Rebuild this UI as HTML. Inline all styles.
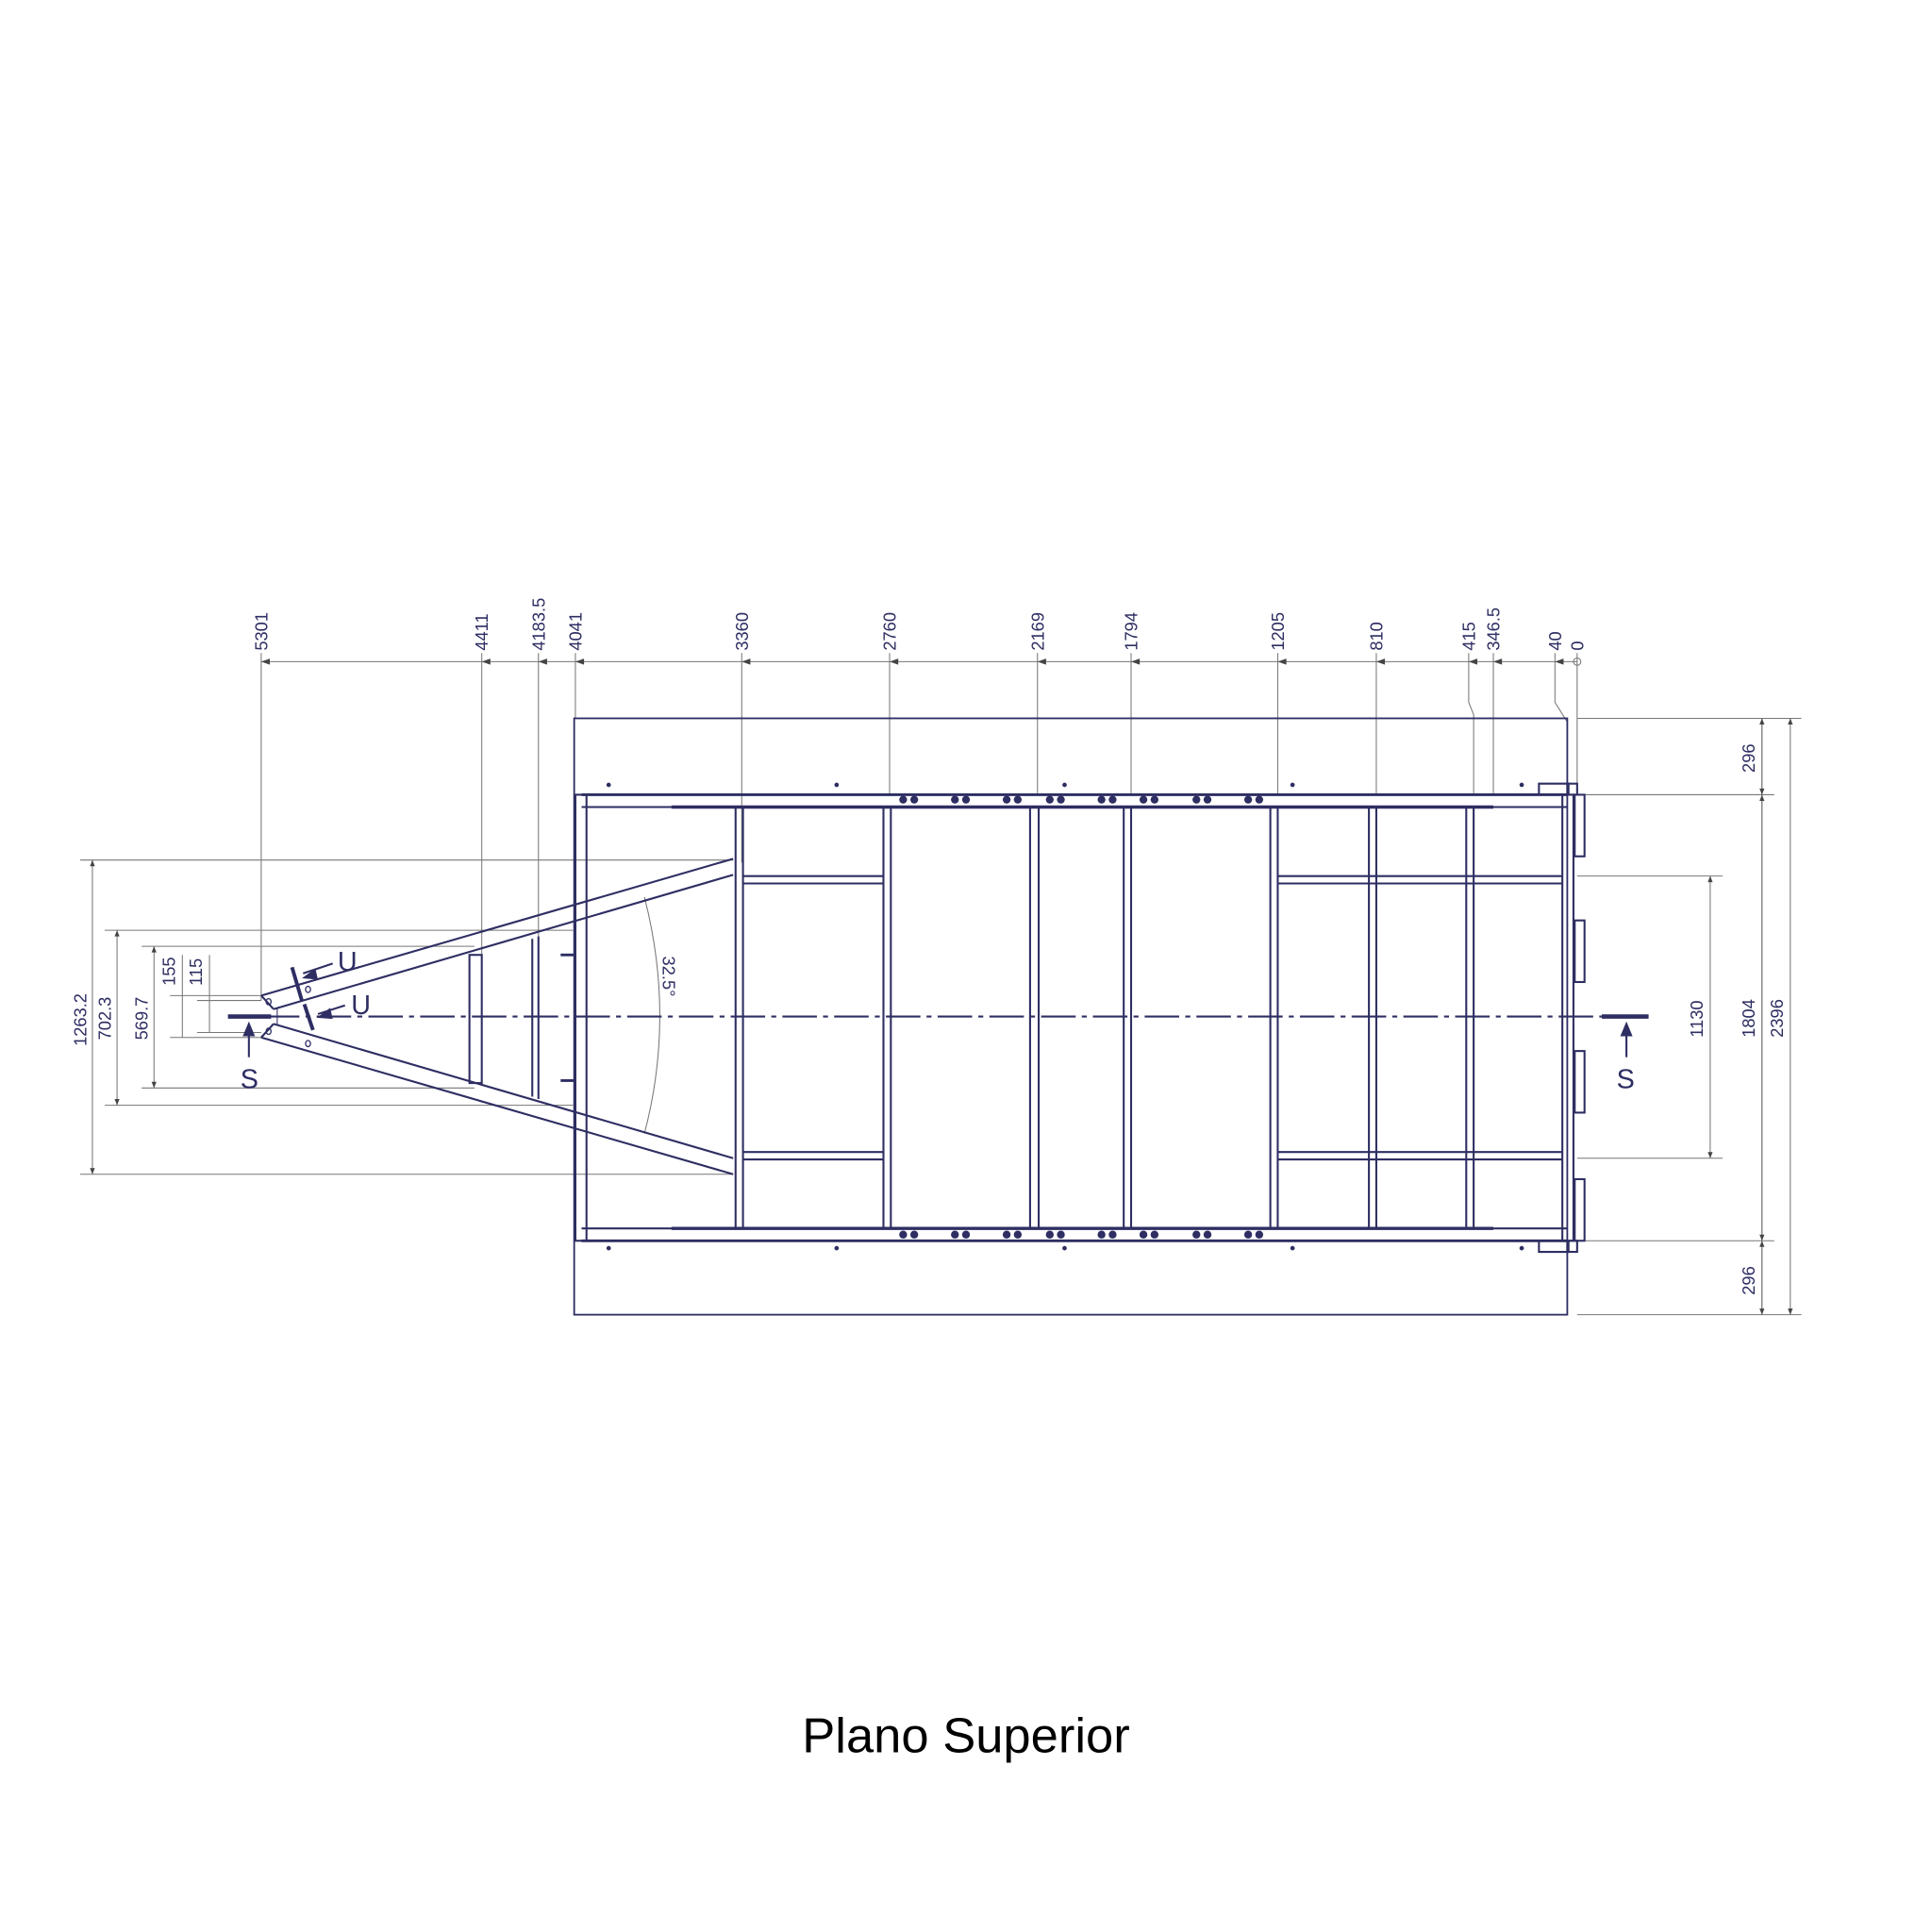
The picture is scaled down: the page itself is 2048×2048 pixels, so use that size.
<!DOCTYPE html>
<html><head><meta charset="utf-8"><style>html,body{margin:0;padding:0;background:#fff}svg{display:block}</style></head>
<body>
<svg width="2048" height="2048" viewBox="0 0 1568 1568" xmlns="http://www.w3.org/2000/svg">
<defs>
<marker id="a" viewBox="0 0 10 10" refX="10" refY="5" markerWidth="7" markerHeight="5" orient="auto-start-reverse" markerUnits="userSpaceOnUse"><path d="M0,1 L10,5 L0,9z" fill="#444"/></marker>
</defs>
<rect width="1568" height="1568" fill="#fff"/>
<g stroke="#777" stroke-width="0.8" fill="none">
<!-- top dimension -->
<line x1="212" y1="537" x2="1280" y2="537"/>
<g>
<line x1="212" y1="530" x2="212" y2="812"/>
<line x1="391" y1="530" x2="391" y2="775"/>
<line x1="437" y1="530" x2="437" y2="760"/>
<line x1="467" y1="530" x2="467" y2="583"/>
<line x1="602" y1="530" x2="602" y2="700"/>
<line x1="722" y1="530" x2="722" y2="645"/>
<line x1="842" y1="530" x2="842" y2="645"/>
<line x1="918" y1="530" x2="918" y2="645"/>
<line x1="1037" y1="530" x2="1037" y2="645"/>
<line x1="1117" y1="530" x2="1117" y2="645"/>
<polyline points="1192,530 1192,570 1196,580 1196,645"/>
<line x1="1212" y1="530" x2="1212" y2="645"/>
<polyline points="1262,530 1262,570 1272,586"/>
<line x1="1280" y1="530" x2="1280" y2="645"/>
</g>
<circle cx="1280" cy="537" r="3"/>
<!-- right dims -->
<line x1="1280" y1="583" x2="1462" y2="583"/>
<line x1="1285" y1="645" x2="1440" y2="645"/>
<line x1="1285" y1="1007" x2="1440" y2="1007"/>
<line x1="1280" y1="1067" x2="1462" y2="1067"/>
<line x1="1280" y1="711" x2="1398" y2="711"/>
<line x1="1280" y1="940" x2="1398" y2="940"/>
<line x1="1430" y1="583" x2="1430" y2="1067"/>
<line x1="1453" y1="583" x2="1453" y2="1067" marker-start="url(#a)" marker-end="url(#a)"/>
<line x1="1388" y1="711" x2="1388" y2="940" marker-start="url(#a)" marker-end="url(#a)"/>
<line x1="1430" y1="583" x2="1430" y2="645" marker-start="url(#a)" marker-end="url(#a)"/>
<line x1="1430" y1="645" x2="1430" y2="1007" marker-start="url(#a)" marker-end="url(#a)"/>
<line x1="1430" y1="1007" x2="1430" y2="1067" marker-start="url(#a)" marker-end="url(#a)"/>
<!-- left dims -->
<line x1="65" y1="698" x2="595" y2="698"/>
<line x1="65" y1="953" x2="595" y2="953"/>
<line x1="85" y1="755" x2="465" y2="755"/>
<line x1="85" y1="897" x2="465" y2="897"/>
<line x1="115" y1="768" x2="385" y2="768"/>
<line x1="115" y1="883" x2="385" y2="883"/>
<line x1="138" y1="808" x2="212" y2="808"/>
<line x1="138" y1="842" x2="212" y2="842"/>
<line x1="160" y1="812" x2="212" y2="812"/>
<line x1="160" y1="838" x2="212" y2="838"/>
<line x1="75" y1="698" x2="75" y2="953" marker-start="url(#a)" marker-end="url(#a)"/>
<line x1="95" y1="755" x2="95" y2="897" marker-start="url(#a)" marker-end="url(#a)"/>
<line x1="125" y1="768" x2="125" y2="883" marker-start="url(#a)" marker-end="url(#a)"/>
<line x1="148" y1="775" x2="148" y2="842"/>
<line x1="170" y1="775" x2="170" y2="838"/>
<!-- angle arc -->
<path d="M523,728 Q548,825 523,920"/>
</g>
<g fill="#444">
<path d="M212,537 l7,-2.5 v5z M391,537 l7,-2.5 v5z M437,537 l7,-2.5 v5z M467,537 l7,-2.5 v5z M602,537 l7,-2.5 v5z M722,537 l7,-2.5 v5z M842,537 l7,-2.5 v5z M918,537 l7,-2.5 v5z M1037,537 l7,-2.5 v5z M1117,537 l7,-2.5 v5z M1192,537 l7,-2.5 v5z M1212,537 l7,-2.5 v5z M1262,537 l7,-2.5 v5z"/>
</g>
<!-- drawing -->
<g stroke="#2e2e63" fill="none" stroke-width="1.6">
<rect x="466" y="583" width="806" height="484" stroke-width="1.4"/>
<line x1="472" y1="645" x2="1272" y2="645" stroke-width="2.2"/>
<line x1="472" y1="655" x2="1272" y2="655"/>
<line x1="545" y1="655" x2="1212" y2="655" stroke-width="2.6"/>
<line x1="472" y1="997" x2="1272" y2="997"/>
<line x1="545" y1="997" x2="1212" y2="997" stroke-width="2.6"/>
<line x1="472" y1="1007" x2="1272" y2="1007" stroke-width="2.2"/>
<rect x="467" y="645" width="9" height="362"/>
<rect x="1268" y="645" width="9" height="362"/>
<g>
<line x1="597" y1="655" x2="597" y2="997"/><line x1="603" y1="655" x2="603" y2="997"/>
<line x1="717" y1="655" x2="717" y2="997"/><line x1="723" y1="655" x2="723" y2="997"/>
<line x1="836" y1="655" x2="836" y2="997"/><line x1="843" y1="655" x2="843" y2="997"/>
<line x1="912" y1="655" x2="912" y2="997"/><line x1="918" y1="655" x2="918" y2="997"/>
<line x1="1031" y1="655" x2="1031" y2="997"/><line x1="1037" y1="655" x2="1037" y2="997"/>
<line x1="1111" y1="655" x2="1111" y2="997"/><line x1="1117" y1="655" x2="1117" y2="997"/>
<line x1="1190" y1="655" x2="1190" y2="997"/><line x1="1196" y1="655" x2="1196" y2="997"/>
</g>
<g>
<line x1="603" y1="711" x2="717" y2="711"/><line x1="603" y1="717" x2="717" y2="717"/>
<line x1="603" y1="935" x2="717" y2="935"/><line x1="603" y1="941" x2="717" y2="941"/>
<line x1="1037" y1="711" x2="1268" y2="711"/><line x1="1037" y1="717" x2="1268" y2="717"/>
<line x1="1037" y1="935" x2="1268" y2="935"/><line x1="1037" y1="941" x2="1268" y2="941"/>
</g>
<!-- right plates -->
<path d="M1249,645 v-9 h24 v9"/>
<path d="M1249,1007 v9 h24 v-9"/>
<rect x="1272" y="636" width="8" height="9"/><rect x="1272" y="1007" width="8" height="9"/>
<rect x="1278" y="645" width="8" height="50"/>
<rect x="1278" y="747" width="8" height="50"/>
<rect x="1278" y="853" width="8" height="50"/>
<rect x="1278" y="957" width="8" height="50"/>
<!-- drawbar -->
<line x1="212" y1="808" x2="595" y2="697"/>
<line x1="222" y1="819" x2="595" y2="710"/>
<line x1="212" y1="842" x2="595" y2="953"/>
<line x1="222" y1="831" x2="595" y2="940"/>
<line x1="212" y1="808" x2="222" y2="819"/>
<line x1="212" y1="842" x2="222" y2="831"/>
<line x1="225" y1="818" x2="225" y2="832" stroke-width="0.8"/>
<rect x="381" y="775" width="10" height="104"/>
<line x1="432" y1="762" x2="432" y2="890"/><line x1="437" y1="760" x2="437" y2="892"/>
<line x1="455" y1="775" x2="467" y2="775" stroke-width="2.2"/>
<line x1="455" y1="877" x2="467" y2="877" stroke-width="2.2"/>
<ellipse cx="218" cy="813" rx="2" ry="2.5" stroke-width="1"/>
<ellipse cx="218" cy="837" rx="2" ry="2.5" stroke-width="1"/>
<ellipse cx="250" cy="803" rx="2" ry="2.5" stroke-width="1"/>
<ellipse cx="250" cy="847" rx="2" ry="2.5" stroke-width="1"/>
<!-- centerline -->
<line x1="215" y1="825" x2="1300" y2="825" stroke-dasharray="28,5,4,5" stroke-width="1.6"/>
<!-- S sections -->
<line x1="185" y1="825" x2="220" y2="825" stroke-width="3.5"/>
<line x1="202" y1="858" x2="202" y2="835"/>
<line x1="1300" y1="825" x2="1338" y2="825" stroke-width="3.5"/>
<line x1="1320" y1="858" x2="1320" y2="835"/>
<!-- U -->
<line x1="237" y1="785" x2="245" y2="812" stroke-width="3"/>
<line x1="246" y1="790" x2="270" y2="782"/>
<line x1="247" y1="815" x2="254" y2="836" stroke-width="3"/>
<line x1="258" y1="823" x2="280" y2="816"/>
</g>
<g fill="#2e2e63">
<path d="M202,829 l-5,12 h10z M1320,829 l-5,12 h10z M245,794 l11,-8 l2,9z M257,826 l11,-8 l2,9z"/>
<g>
<circle cx="494" cy="637" r="1.8"/><circle cx="679" cy="637" r="1.8"/><circle cx="864" cy="637" r="1.8"/><circle cx="1049" cy="637" r="1.8"/><circle cx="1235" cy="637" r="1.8"/>
<circle cx="494" cy="1013" r="1.8"/><circle cx="679" cy="1013" r="1.8"/><circle cx="864" cy="1013" r="1.8"/><circle cx="1049" cy="1013" r="1.8"/><circle cx="1235" cy="1013" r="1.8"/>
</g>
<g>
<circle cx="733" cy="649" r="3.2"/><circle cx="742" cy="649" r="3.2"/><circle cx="775" cy="649" r="3.2"/><circle cx="784" cy="649" r="3.2"/>
<circle cx="817" cy="649" r="3.2"/><circle cx="826" cy="649" r="3.2"/><circle cx="852" cy="649" r="3.2"/><circle cx="861" cy="649" r="3.2"/>
<circle cx="894" cy="649" r="3.2"/><circle cx="903" cy="649" r="3.2"/><circle cx="928" cy="649" r="3.2"/><circle cx="937" cy="649" r="3.2"/>
<circle cx="971" cy="649" r="3.2"/><circle cx="980" cy="649" r="3.2"/><circle cx="1013" cy="649" r="3.2"/><circle cx="1022" cy="649" r="3.2"/>
<circle cx="733" cy="1002" r="3.2"/><circle cx="742" cy="1002" r="3.2"/><circle cx="775" cy="1002" r="3.2"/><circle cx="784" cy="1002" r="3.2"/>
<circle cx="817" cy="1002" r="3.2"/><circle cx="826" cy="1002" r="3.2"/><circle cx="852" cy="1002" r="3.2"/><circle cx="861" cy="1002" r="3.2"/>
<circle cx="894" cy="1002" r="3.2"/><circle cx="903" cy="1002" r="3.2"/><circle cx="928" cy="1002" r="3.2"/><circle cx="937" cy="1002" r="3.2"/>
<circle cx="971" cy="1002" r="3.2"/><circle cx="980" cy="1002" r="3.2"/><circle cx="1013" cy="1002" r="3.2"/><circle cx="1022" cy="1002" r="3.2"/>
</g>
</g>
<g font-family="Liberation Sans, sans-serif" font-size="14" fill="#2e2e63">
<g>
<text transform="translate(217,528) rotate(-90)">5301</text>
<text transform="translate(396,528) rotate(-90)">4411</text>
<text transform="translate(442,528) rotate(-90)">4183.5</text>
<text transform="translate(472,528) rotate(-90)">4041</text>
<text transform="translate(607,528) rotate(-90)">3360</text>
<text transform="translate(727,528) rotate(-90)">2760</text>
<text transform="translate(847,528) rotate(-90)">2169</text>
<text transform="translate(923,528) rotate(-90)">1794</text>
<text transform="translate(1042,528) rotate(-90)">1205</text>
<text transform="translate(1122,528) rotate(-90)">810</text>
<text transform="translate(1197,528) rotate(-90)">415</text>
<text transform="translate(1217,528) rotate(-90)">346.5</text>
<text transform="translate(1267,528) rotate(-90)">40</text>
<text transform="translate(1285,528) rotate(-90)">0</text>
<text transform="translate(1424,627) rotate(-90)">296</text>
<text transform="translate(1424,1051) rotate(-90)">296</text>
<text transform="translate(1424,842) rotate(-90)">1804</text>
<text transform="translate(1447,842) rotate(-90)">2396</text>
<text transform="translate(1382,842) rotate(-90)">1130</text>
<text transform="translate(70,849) rotate(-90)">1263.2</text>
<text transform="translate(90,844) rotate(-90)">702.3</text>
<text transform="translate(120,844) rotate(-90)">569.7</text>
<text transform="translate(142,800) rotate(-90)">155</text>
<text transform="translate(164,800) rotate(-90)">115</text>
<text transform="translate(538,776) rotate(90)">32.5°</text>
</g>
<g font-size="22">
<text x="195" y="883">S</text>
<text x="1312" y="883">S</text>
<text x="274" y="788">U</text>
<text x="285" y="823">U</text>
</g>
</g>
<text x="651" y="1422" font-family="Liberation Sans, sans-serif" font-size="40" fill="#000" textLength="266" lengthAdjust="spacingAndGlyphs">Plano Superior</text>
</svg>
</body></html>
